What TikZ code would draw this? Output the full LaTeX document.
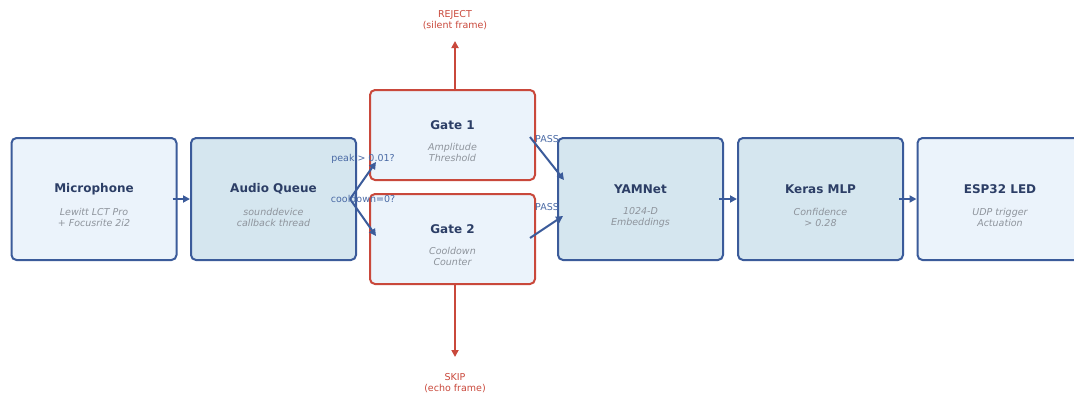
\documentclass[tikz,border=0pt]{standalone}
\usepackage{fontspec}
\setmainfont{DejaVu Sans}
\usetikzlibrary{arrows.meta,calc}
\definecolor{bblue}{HTML}{3B5B9A}
\definecolor{navy}{HTML}{2C3E66}
\definecolor{flight}{HTML}{EBF3FB}
\definecolor{fmid}{HTML}{D5E6EF}
\definecolor{rred}{HTML}{C9483B}
\definecolor{subgray}{HTML}{8E949C}
\definecolor{lblue}{HTML}{4A6AA5}
\tikzset{
  box/.style={draw=bblue, line width=2pt, rounded corners=5pt, minimum width=165pt, minimum height=122pt, inner sep=0pt},
  gatebox/.style={draw=rred, line width=2pt, rounded corners=5pt, fill=flight, minimum width=165pt, minimum height=90pt, inner sep=0pt},
  ttl/.style={font=\fontsize{12}{14}\selectfont\bfseries, text=navy},
  sub/.style={font=\fontsize{9.5}{11}\selectfont\itshape, text=subgray, align=center},
  conn/.style={draw=bblue, line width=2pt, -{Triangle[length=7pt,width=7pt]}},
  rconn/.style={draw=rred, line width=1.8pt, -{Triangle[length=7pt,width=7pt]}},
  lbl/.style={font=\fontsize{9.5}{11}\selectfont, text=lblue},
  rlbl/.style={font=\fontsize{9.5}{11.5}\selectfont, text=rred, align=center},
}
\begin{document}
\begin{tikzpicture}[x=1pt,y=-1pt]
\useasboundingbox (0,0) rectangle (1074,394);
\begin{scope}
\clip (0,0) rectangle (1074,394);
\node[box, fill=flight] (mic) at (94,199) {};
\node[box, fill=fmid] (aq) at (273.5,199) {};
\node[gatebox] (g1) at (452.5,135) {};
\node[gatebox] (g2) at (452.5,239) {};
\node[box, fill=fmid] (yam) at (640.5,199) {};
\node[box, fill=fmid] (mlp) at (820.5,199) {};
\node[box, fill=flight] (esp) at (1000,199) {};
\end{scope}

\node[ttl] (micT) at (94,189) {Microphone};
\node[sub] (micS) at (94,217) {Lewitt LCT Pro\\+ Focusrite 2i2};
\node[ttl] (aqT) at (273.5,189) {Audio Queue};
\node[sub] (aqS) at (273.5,217) {sounddevice\\callback thread};
\node[ttl] (g1T) at (452.5,125) {Gate 1};
\node[sub] (g1S) at (452.5,152) {Amplitude\\Threshold};
\node[ttl] (g2T) at (452.5,229) {Gate 2};
\node[sub] (g2S) at (452.5,256) {Cooldown\\Counter};
\node[ttl] (yamT) at (640.5,189) {YAMNet};
\node[sub] (yamS) at (640.5,217) {1024-D\\Embeddings};
\node[ttl] (mlpT) at (820.5,189) {Keras MLP};
\node[sub] (mlpS) at (820.5,217) {Confidence\\> 0.28};
\node[ttl] (espT) at (1000,189) {ESP32 LED};
\node[sub] (espS) at (1000,217) {UDP trigger\\Actuation};

% coordinates
\coordinate (aqOut) at (350,199);
\coordinate (g1In) at (376,162);
\coordinate (g2In) at (376,236);
\coordinate (g1Out) at (530,137);
\coordinate (g2Out) at (530,238);
\coordinate (yIn1) at (564,180);
\coordinate (yIn2) at (563,216);
\coordinate (rejTip) at (455,41);
\coordinate (skipTip) at (455,357);

\draw[conn] ($(mic.east)+(-5,0)$) -- (aq.west);
\draw[conn] (aqOut) -- (g1In);
\draw[conn] (aqOut) -- (g2In);
\draw[conn] (g1Out) -- (yIn1);
\draw[conn] (g2Out) -- (yIn2);
\draw[conn] ($(yam.east)+(-5,0)$) -- (mlp.west);
\draw[conn] ($(mlp.east)+(-5,0)$) -- (esp.west);

\draw[rconn] (g1.north -| rejTip) ++(0,2) -- (rejTip);
\draw[rconn] (g2.south -| skipTip) ++(0,-2) -- (skipTip);

\node[lbl] (l1) at (363,159) {peak > 0.01?};
\node[lbl] (l2) at (363,199) {cooldown=0?};
\node[lbl] (p1) at (547,139) {PASS};
\node[lbl] (p2) at (547,207) {PASS};

\node[rlbl] (rej) at (455,20) {REJECT\\(silent frame)};
\node[rlbl] (skip) at (455,383) {SKIP\\(echo frame)};
\end{tikzpicture}
\end{document}
